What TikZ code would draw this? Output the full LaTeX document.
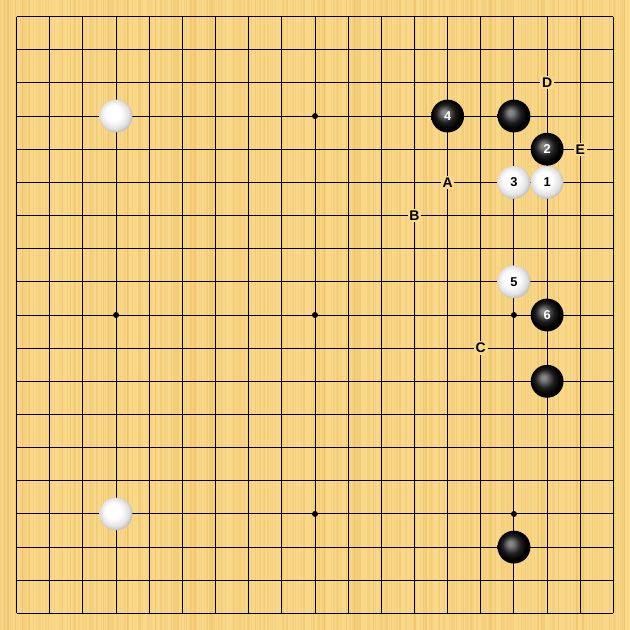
\documentclass[tikz,border=0pt]{standalone}
\usepackage{fontspec}
\setsansfont{Liberation Sans}
\definecolor{board}{RGB}{249,216,138}
\definecolor{grain}{RGB}{236,192,100}
\pgfdeclareradialshading{whiteball}{\pgfpoint{-6bp}{6bp}}{%
    color(0bp)=(white); color(12bp)=(white); color(22bp)=(black!12);
    color(30bp)=(black!35); color(40bp)=(black!45)}
\pgfdeclareradialshading{blackball}{\pgfpoint{-6bp}{6bp}}{%
    color(0bp)=(black!45); color(4bp)=(black!50); color(14bp)=(black!88);
    color(22bp)=(black); color(40bp)=(black)}

\begin{document}
\begin{tikzpicture}[x=1cm,y=-1cm,
    stone/.style={circle,minimum size=0.99cm,inner sep=0pt,
      font=\sffamily\bfseries\fontsize{11}{12}\selectfont},
    blackstone/.style={stone,shading=blackball,text=white},
    whitestone/.style={stone,shading=whiteball,text=black},
    letter/.style={fill=board,inner sep=1.5pt,
      font=\sffamily\bfseries\fontsize{12}{14}\selectfont}]
    \useasboundingbox (-0.5,-0.5) rectangle (18.5,18.5);
    \fill[board] (-0.5,-0.5) rectangle (18.5,18.5);
    % wood grain
    \pgfmathsetseed{11}
    \foreach \k in {1,...,420}{
        \pgfmathsetmacro{\gx}{-0.5+19*rnd}
        \pgfmathsetmacro{\gw}{0.015+0.03*rnd}
        \fill[grain, opacity=0.3] (\gx,-0.5) rectangle (\gx+\gw,18.5);
    }
    % grid
    \foreach \i in {0,...,18}{
        \draw[line width=0.85pt] (\i,0) -- (\i,18);
        \draw[line width=0.85pt] (0,\i) -- (18,\i);
    }
    \foreach \x/\y in {3/3,9/3,15/3,3/9,9/9,15/9,3/15,9/15,15/15}
        \fill (\x,\y) circle (0.09);
    % stones
    \node[whitestone] (w33) at (3,3) {};
    \node[whitestone] (w315) at (3,15) {};
    \node[blackstone] (b153) at (15,3) {};
    \node[blackstone] (b1611) at (16,11) {};
    \node[blackstone] (b1516) at (15,16) {};
    \node[whitestone] (m1) at (16,5) {1};
    \node[blackstone] (m2) at (16,4) {2};
    \node[whitestone] (m3) at (15,5) {3};
    \node[blackstone] (m4) at (13,3) {4};
    \node[whitestone] (m5) at (15,8) {5};
    \node[blackstone] (m6) at (16,9) {6};
    % letters
    \node[letter] (la) at (13,5) {A};
    \node[letter] (lb) at (12,6) {B};
    \node[letter] (lc) at (14,10) {C};
    \node[letter] (ld) at (16,2) {D};
    \node[letter] (le) at (17,4) {E};
\end{tikzpicture}
\end{document}
